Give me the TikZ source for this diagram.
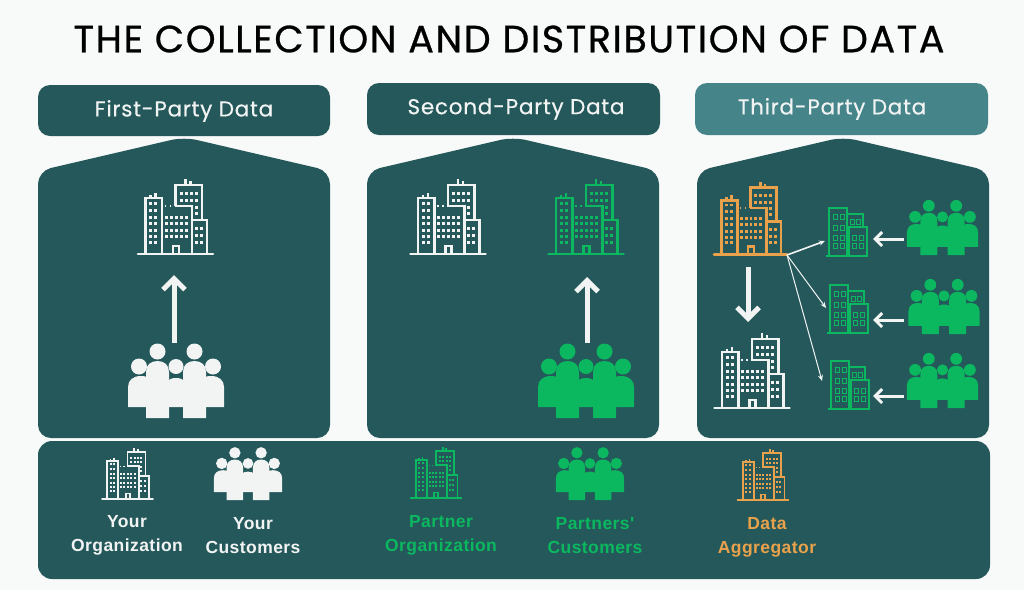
\documentclass[tikz,border=0pt]{standalone}
\usepackage{fontspec}
\usepackage{xcolor}
\usetikzlibrary{arrows.meta}
\setmainfont{Poppins}
\newfontfamily\labelfont[LetterSpace=2.5]{Liberation Sans}
\newfontfamily\titlefont[LetterSpace=4.2,FakeBold=.7]{Poppins}
\newfontfamily\headfont[LetterSpace=3.5,FakeBold=.4]{Poppins}
\definecolor{panelteal}{HTML}{24585A}
\definecolor{lightteal}{HTML}{45858A}
\definecolor{pagegray}{HTML}{F8F9F9}
\definecolor{iconwhite}{HTML}{F2F4F4}
\definecolor{icongreen}{HTML}{0BB75F}
\definecolor{iconorange}{HTML}{E9A24B}
\tikzset{
  header/.style={fill=#1,rounded corners=12pt},
  headtext/.style={text=iconwhite,font=\headfont\fontsize{21.5}{24}\selectfont},
  legendtext/.style={font=\labelfont\bfseries\fontsize{17.5}{24.3}\selectfont,align=center,text=#1},
  bigarrow/.style={draw=iconwhite,line width=5pt,-{Straight Barb[length=11pt,width=22pt,line width=5pt]}},
  midarrow/.style={draw=iconwhite,line width=3pt,-{Straight Barb[length=7pt,width=14pt,line width=3pt]}},
  thinarrow/.style={draw=iconwhite,line width=#1,-{Stealth[length=6pt,width=5pt]}},
  pics/building/.style 2 args={code={
    \draw[#1,line width=#2pt,line cap=round] (-37.5,0) -- (37.5,0);
    \draw[#1,line width=#2pt] (-30,0) -- (-30,-56) -- (-13.5,-56) -- (-13.5,0)
      (0,-48) -- (16.5,-48) -- (16.5,0) (0,-48) -- (0,-69) -- (26.5,-69) -- (26.5,-34)
      (16.5,-34) -- (31.5,-34) -- (31.5,0) (-2.5,0) -- (-2.5,-8) -- (3.5,-8) -- (3.5,0)
      (-25,-56) -- ++(0,-3) (-20,-56) -- ++(0,-5) (10,-69) -- ++(0,-6) (15,-69) -- ++(0,-4);
    \foreach \wx in {-24.8,-19.8}
      \foreach \wy in {-51,-44,-37,-31,-24,-18,-12}
        \fill[#1] (\wx-1.5,\wy-1.5) rectangle ++(3,3);
    \foreach \wx in {-9.5,-4.5,0.5,5.5,10.5}
      \foreach \wy in {-37,-31,-24,-18}
        \fill[#1] (\wx-1.5,\wy-1.5) rectangle ++(3,3);
    \foreach \wx in {5.5,10.5,15.5,20.5}
      \foreach \wy in {-61,-54}
        \fill[#1] (\wx-1.5,\wy-1.5) rectangle ++(3,3);
    \foreach \wy in {-47,-41}
      \fill[#1] (20.5-1.5,\wy-1.5) rectangle ++(3,3);
    \foreach \wx in {20.5,25.5}
      \foreach \wy in {-26,-19,-12}
        \fill[#1] (\wx-1.5,\wy-1.5) rectangle ++(3,3);
    \foreach \wx in {-11,-6,-1,4}
      \fill[#1] (\wx,-49) rectangle ++(1.6,1.6);
  }},
  pics/smallbuilding/.style={code={
    \draw[icongreen,line width=1.3pt] (-21,0) -- (21,0)
      (-18,0) -- (-18,-48) -- (0,-48) -- (0,0)
      (0,-42) -- (16,-42) -- (16,-29) (2,0) -- (2,-29) -- (20,-29) -- (20,0);
    \foreach \wy in {-42,-31,-21,-13}
      \foreach \wx in {-14,-7}
        \draw[icongreen,line width=1pt] (\wx,\wy) rectangle ++(4.5,5);
    \foreach \wx in {3,9.5}
      \draw[icongreen,line width=1pt] (\wx,-37) rectangle ++(4,5);
    \foreach \wy in {-21,-13}
      \foreach \wx in {5,12}
        \draw[icongreen,line width=1pt] (\wx,\wy) rectangle ++(4.5,5);
  }},
  pics/crowd/.style={code={
    \foreach \cx/\hw/\ctop/\cbot in {-35/13/-42/-11,35/13/-42/-11,0/12/-40/-11,-18.5/11.5/-57/0,18.5/11.5/-57/0}
      \fill[#1] (\cx-\hw,\cbot) -- (\cx-\hw,\ctop+11)
        .. controls (\cx-\hw,\ctop+4) and (\cx-.6*\hw,\ctop) .. (\cx,\ctop)
        .. controls (\cx+.6*\hw,\ctop) and (\cx+\hw,\ctop+4) .. (\cx+\hw,\ctop+11)
        -- (\cx+\hw,\cbot) -- cycle;
    \foreach \cx/\cy/\cr in {-37/-51.5/8,37/-51.5/8,0/-51.5/7.5,-18.5/-66.5/8,18.5/-66.5/8}
      \fill[#1] (\cx,\cy) circle (\cr);
  }}
}
\begin{document}
\begin{tikzpicture}[x=1pt,y=-1pt]
  \fill[pagegray] (0,0) rectangle (1024,590);
  \useasboundingbox (0,0) rectangle (1024,590);

  \node[font=\titlefont\fontsize{38}{40}\selectfont,text=black] (title) at (509,39) {THE COLLECTION AND DISTRIBUTION OF DATA};

  % headers
  \fill[header=panelteal] (38,85) rectangle (330,136);
  \fill[header=panelteal] (367,83) rectangle (660,135);
  \fill[header=lightteal] (695,83) rectangle (988,135);
  \node[headtext] (firsthead) at (184,111) {First-Party Data};
  \node[headtext] (secondhead) at (516,109) {Second-Party Data};
  \node[headtext] (thirdhead) at (832,109) {Third-Party Data};

  % houses
  \foreach \hx in {38,367,697}{
    \fill[panelteal,rounded corners=13pt] (\hx,438) -- (\hx,171) -- (\hx+146,137) -- (\hx+292,171) -- (\hx+292,438) -- cycle;
  }
  \fill[panelteal,rounded corners=14pt] (38,441) rectangle (990,579);

  % first
  \pic at (175.5,254) {building={iconwhite}{2.8}};
  \pic at (176,418) {crowd=iconwhite};
  \coordinate (firstfrom) at (174,343);
  \coordinate (firstto) at (174,275);
  \draw[bigarrow] (firstfrom) -- (firstto);

  % second
  \pic at (448,254) {building={iconwhite}{2.8}};
  \pic at (586,254) {building={icongreen}{2.8}};
  \pic at (586,418) {crowd=icongreen};
  \coordinate (secondfrom) at (587,343);
  \coordinate (secondto) at (587,277);
  \draw[bigarrow] (secondfrom) -- (secondto);

  % third
  \pic[scale=.97] at (750.5,254.5) {building={iconorange}{2.8}};
  \pic at (752,408) {building={iconwhite}{2.8}};
  \coordinate (aggfrom) at (748,267);
  \coordinate (aggto) at (748,322);
  \draw[bigarrow] (aggfrom) -- (aggto);
  \foreach \gy/\gx/\cx/\cy/\sy in {256/847/942.5/255/239,333/848/944/334/320,409/849/942.5/408/396}{
    \pic at (\gx,\gy) {smallbuilding};
    \pic[scale=.74] at (\cx,\cy) {crowd=icongreen};
    \coordinate (from\gx) at (904,\sy);
    \coordinate (to\gx) at (873,\sy);
    \draw[midarrow] (from\gx) -- (to\gx);
  }
  \coordinate (hub) at (787,255);
  \coordinate (hubup) at (825,241);
  \coordinate (hubmid) at (826,308);
  \coordinate (hublow) at (822,381);
  \draw[thinarrow=1.6pt] (hub) -- (hubup);
  \draw[thinarrow=1pt] (hub) -- (hubmid);
  \draw[thinarrow=1pt] (hub) -- (hublow);

  % legend
  \pic[scale=.68] at (127.5,499) {building={iconwhite}{1.8}};
  \pic[scale=.71] at (248,500) {crowd=iconwhite};
  \pic[scale=.68] at (436,498) {building={icongreen}{1.8}};
  \pic[scale=.71] at (590,500) {crowd=icongreen};
  \pic[scale=.68] at (763,500) {building={iconorange}{1.8}};
  \node[legendtext=iconwhite] (yourorg) at (127,535.5) {Your\\Organization};
  \node[legendtext=iconwhite] (yourcust) at (253,535.5) {Your\\Customers};
  \node[legendtext=icongreen] (partnerorg) at (441,535.5) {Partner\\Organization};
  \node[legendtext=icongreen] (partnercust) at (595,535.5) {Partners'\\Customers};
  \node[legendtext=iconorange] (aggname) at (767,537.5) {Data\\Aggregator};
\end{tikzpicture}
\end{document}
